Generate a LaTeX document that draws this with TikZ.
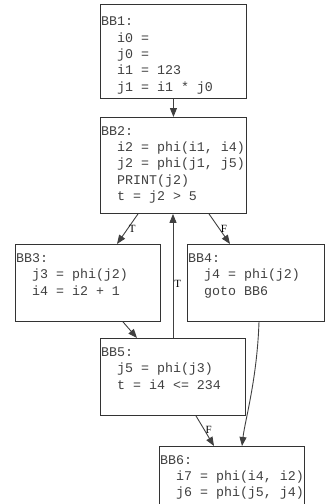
\documentclass[tikz,border=0pt]{standalone}
\usepackage{fontspec}
\setmainfont{Liberation Serif}
\newfontfamily\codefont{Liberation Mono}
\usetikzlibrary{arrows.meta}
\begin{document}
\begin{tikzpicture}[x=1pt,y=-1pt,
  bbox/.style={draw=black!80, line width=0.9pt, anchor=north west, inner sep=0pt},
  code/.style={anchor=base west, inner sep=0pt, align=left, text=black!75,
    font=\codefont\fontsize{13.3}{16.3}\selectfont},
  edge/.style={draw=black!75, line width=0.9pt, -{Triangle[length=9pt,width=7pt]}},
  lab/.style={font=\fontsize{11}{12}\selectfont, inner sep=1pt}]
\useasboundingbox (0,0) rectangle (325,504);
% boxes
\node[bbox, minimum width=146pt, minimum height=94pt] (b1) at (100,4) {};
\node[bbox, minimum width=146pt, minimum height=96pt] (b2) at (100,117) {};
\node[bbox, minimum width=145pt, minimum height=77pt] (b3) at (15,244) {};
\node[bbox, minimum width=137pt, minimum height=77pt] (b4) at (187,244) {};
\node[bbox, minimum width=145pt, minimum height=77pt] (b5) at (100,338) {};
\node[bbox, minimum width=145pt, minimum height=74pt] (b6) at (159,446) {};
% texts (anchored at the baseline of their last line)
\node[code] (t1) at (101,91) {BB1:\\\ \ i0 =\\\ \ j0 =\\\ \ i1 = 123\\\ \ j1 = i1 * j0};
\node[code] (t2) at (101,200.5) {BB2:\\\ \ i2 = phi(i1, i4)\\\ \ j2 = phi(j1, j5)\\\ \ PRINT(j2)\\\ \ t = j2 > 5};
\node[code] (t3) at (16,295) {BB3:\\\ \ j3 = phi(j2)\\\ \ i4 = i2 + 1};
\node[code] (t4) at (188,295) {BB4:\\\ \ j4 = phi(j2)\\\ \ goto BB6};
\node[code] (t5) at (101,389) {BB5:\\\ \ j5 = phi(j3)\\\ \ t = i4 <= 234};
\node[code] (t6) at (160,496.7) {BB6:\\\ \ i7 = phi(i4, i2)\\\ \ j6 = phi(j5, j4)};
% edges
\draw[edge] (b1.south) -- (b2.north);
\draw[edge] ([xshift=38pt]b2.south west) -- node[lab, right, pos=0.5] {T} ([xshift=102pt]b3.north west);
\draw[edge] ([xshift=109pt]b2.south west) -- node[lab, right, pos=0.5] {F} ([xshift=43pt]b4.north west);
\draw[edge] ([xshift=108pt]b3.south west) -- ([xshift=37pt]b5.north west);
\draw[edge] ([xshift=73pt]b5.north west) -- node[lab, right, pos=0.44] {T} ([xshift=73pt]b2.south west);
\draw[edge] ([xshift=96pt]b5.south west) -- node[lab, right, pos=0.45] {F} ([xshift=55pt]b6.north west);
\draw[edge] ([xshift=72pt]b4.south west) .. controls +(-2,58) and +(3,-26) .. ([xshift=83pt]b6.north west);
\end{tikzpicture}
\end{document}
